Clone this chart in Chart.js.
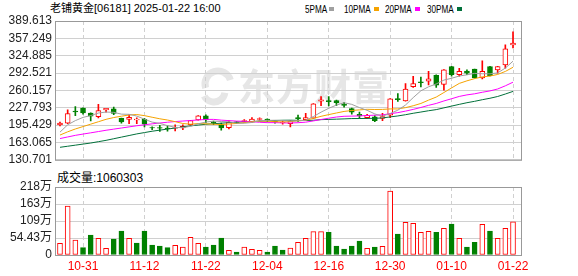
<!DOCTYPE html>
<html>
<head>
<meta charset="utf-8">
<script src="https://cdn.jsdelivr.net/npm/chart.js@4.4.1/dist/chart.umd.min.js"></script>
<style>
	body { margin: 0; background: #fff; width: 578px; height: 276px; overflow: hidden; position: relative;
		font-family: "Liberation Sans", Arial, "Noto Sans CJK SC", sans-serif; color: #000; }
	canvas { position: absolute; left: 0; }
	#kline { top: 0; }
	#vol { top: 170px; }
	.txt { position: absolute; white-space: nowrap; }
	.leg { position: absolute; top: 3px; font-size: 11px; line-height: 12px; transform: scaleX(0.74); transform-origin: left center; }
	.sq { position: absolute; top: 7px; width: 5px; height: 4px; }
</style>
</head>
<body>
<div class="txt" style="left:50px; top:2px; font-size:11px; line-height:13px">老铺黄金[06181] 2025-01-22 16:00</div>
<div id="legend"></div>
<div class="txt" id="volTitle" style="left:57px; top:171px; font-size:12px; line-height:14px"></div>
<canvas id="kline" width="578" height="170"></canvas>
<canvas id="vol" width="578" height="106"></canvas>
<script>
// trading days shown (HK)
const dates = ['10-28', '10-29', '10-30', '10-31',
	'11-01', '11-04', '11-05', '11-06', '11-07', '11-08', '11-11', '11-12', '11-13', '11-14', '11-15',
	'11-18', '11-19', '11-20', '11-21', '11-22', '11-25', '11-26', '11-27', '11-28', '11-29',
	'12-02', '12-03', '12-04', '12-05', '12-06', '12-09', '12-10', '12-11', '12-12', '12-13',
	'12-16', '12-17', '12-18', '12-19', '12-20', '12-23', '12-24', '12-27', '12-30', '12-31',
	'01-02', '01-03', '01-06', '01-07', '01-08', '01-09', '01-10', '01-13', '01-14', '01-15',
	'01-16', '01-17', '01-20', '01-21', '01-22'];

const openP = [196, 199, 221.8, 227, 218, 211, 223.6, 226, 208, 206,
	205, 206, 190.6, 190.6, 190, 189.5, 190, 196, 205, 212.5,
	201.5, 196.5, 190.5, 201.5, 202, 201, 206.2, 206.8, 203, 199.5,
	198, 209.5, 205.5, 208.4, 240, 241, 241.3, 234.6, 226.3, 215.6,
	209.5, 210.7, 207.7, 213.8, 245, 240.4, 267.3, 276, 277.6, 288.4,
	271.5, 304.6, 289.5, 296, 299.7, 283.5, 304.6, 298.5, 307.5, 344.8];
const highP = [201, 224, 230, 227.5, 218.5, 234.4, 226.8, 229, 208.5, 215,
	209, 208, 192, 195, 194, 196, 195.8, 204.4, 213, 214.5,
	203, 199, 204, 202, 205.5, 209.5, 209.2, 207.2, 203.5, 202.5,
	204, 214, 217.5, 235.5, 248.5, 248.5, 242, 237.7, 227, 219.7,
	215.6, 213.2, 217.4, 245, 254.4, 272.7, 286.6, 284.8, 295.6, 289,
	299, 305, 301.5, 298.5, 300, 315.3, 305, 305, 345.2, 369.3];
const lowP = [194, 198, 213, 216, 203, 209, 219.4, 215, 199, 198,
	198, 192, 187, 183.5, 184, 184.5, 187, 195, 204.5, 200,
	196, 186, 188.5, 198.5, 201, 200, 203.2, 202.5, 199, 197,
	192, 202, 205, 208, 231.7, 231, 231.7, 229, 215.6, 207.7,
	207.7, 202, 203.5, 209.5, 239.5, 240, 265.5, 266.8, 270.4, 265.6,
	260.7, 286.6, 286.6, 289.5, 283, 281.7, 287, 292.5, 301.6, 339.3];
const closeP = [199, 217, 220, 218, 212, 222.4, 226.6, 217, 201.4, 210,
	206.5, 197, 190, 189.5, 189, 191, 193, 204, 212.5, 205,
	199.5, 190, 201, 200, 204, 206.5, 207.4, 203.2, 201.5, 201,
	203, 207.5, 209.6, 235.3, 242.5, 239, 237.1, 232, 219.7, 212.5,
	213.8, 203.5, 211.2, 244.3, 243, 262.5, 272.7, 274.5, 281.7, 269.8,
	298.5, 289.5, 295.6, 292.5, 283.5, 295.6, 287.7, 304.6, 337.5, 348.3];

const ma5 = [182.3, 196, 203.8, 209.8, 213.2, 217.9, 219.8, 219.2, 215.9, 215.5,
	212.3, 206.4, 201, 198.6, 194.4, 191.3, 190.5, 193.3, 197.9, 201.1,
	202.8, 202.2, 201.6, 199.1, 198.9, 200.3, 203.8, 204.2, 204.5, 203.9,
	203.2, 203.2, 204.5, 211.3, 219.6, 226.8, 232.7, 237.2, 234.1, 228.1,
	223, 216.3, 212.1, 217.1, 223.2, 232.9, 246.7, 259.4, 266.9, 272.2,
	279.4, 282.8, 287, 289.2, 291.9, 291.3, 291, 292.8, 301.8, 314.7];
const ma10 = [176.9, 182.9, 188.2, 192.7, 197.2, 201.7, 206.2, 209.5, 212, 214.3,
	215.1, 213.1, 210.1, 207.2, 204.9, 201.8, 198.4, 197.1, 198.3, 197.8,
	197.1, 196.4, 197.5, 198.5, 200, 201.6, 203, 202.9, 201.8, 201.4,
	201.8, 203.5, 204.4, 207.9, 211.8, 215, 218, 220.9, 222.7, 223.8,
	224.9, 224.5, 224.7, 225.6, 225.6, 228, 231.5, 235.8, 242, 247.7,
	256.2, 264.8, 273.2, 278, 282.1, 285.4, 286.9, 289.9, 295.5, 303.3];
const ma20 = [170.3, 173.3, 176.3, 178.7, 181, 183.4, 185.8, 187.9, 190, 192.1,
	194.2, 196, 197.8, 199.3, 200.8, 202, 203, 204, 205, 206,
	206.1, 204.7, 203.8, 202.9, 202.5, 201.7, 200.7, 200, 200, 199.6,
	199.4, 199.9, 200.9, 203.2, 205.9, 208.3, 210.5, 211.9, 212.2, 212.6,
	213.3, 214, 214.5, 216.7, 218.7, 221.5, 224.7, 228.3, 232.3, 235.8,
	240.5, 244.6, 248.9, 251.8, 253.8, 256.7, 259.2, 262.8, 268.7, 275.5];
const ma30 = [154, 156, 158, 160, 162, 164.5, 167, 170, 173, 176,
	179, 181.5, 184, 186, 188, 190, 192, 194, 195.5, 197,
	198, 199, 200, 200.8, 201.5, 202.2, 202.8, 203.4, 204, 204.5,
	204.6, 204.3, 204, 204.5, 205.6, 206.1, 206.5, 207, 207.6, 207.7,
	207.9, 208.1, 208.8, 210.7, 212.5, 214.8, 217.5, 219.8, 222.2, 224.3,
	227.6, 230.9, 234.1, 237.2, 239.8, 242.8, 245.5, 248.8, 253.4, 258.3];

// volume in 万股
const volume = [37.3, 156.8, 48, 23.5, 64, 53.3, 21.3, 51.2, 76.8, 53.3,
	38.4, 76.8, 32, 28.8, 23.5, 30.9, 25.6, 56.5, 37.3, 25.6,
	32, 54.4, 14.9, 9.6, 25.6, 18.1, 14.9, 9.6, 28.8, 16,
	22.4, 40.5, 53.3, 74.7, 74.7, 72.5, 28.8, 19.2, 28.8, 44.8,
	21.3, 25.6, 27.7, 204.8, 67.2, 104.5, 101.3, 72.5, 75.7, 72.5,
	85.3, 99.2, 53.3, 25.6, 40.5, 98.1, 76.8, 53.3, 85.3, 106.0303];

const dateTicks = ['10-31', '11-12', '11-22', '12-04', '12-16', '12-30', '01-10', '01-22'];
const priceTicks = [130.701, 163.065, 195.429, 227.793, 260.157, 292.521, 324.885, 357.249, 389.613];
const volTicks = [0, 54.43, 108.86, 163.29, 217.72];
const volTickLabels = ['0', '54.43万', '109万', '163万', '218万'];
const maLabels = ['5PMA', '10PMA', '20PMA', '30PMA'];
const lastVolume = '1060303';

const RED = '#ff0000', GREEN = '#008000';
const maColors = ['#a0a0a0', '#f5a300', '#ff00ff', '#00703a'];
const FONT = '"Liberation Sans", Arial, "Noto Sans CJK SC", sans-serif';

Chart.defaults.font.family = FONT;
Chart.defaults.font.size = 12;

const idx = dates.map((d, i) => i);
const up = idx.map(i => closeP[i] >= openP[i]);
const volUp = idx.map(i => i === 0 ? up[0] : closeP[i] >= closeP[i - 1]);

// legend + volume caption
const legendEl = document.getElementById('legend');
const legX = [305, 344, 385, 427];
maLabels.forEach((t, k) => {
	const s = document.createElement('span');
	s.className = 'leg';
	s.style.left = legX[k] + 'px';
	s.textContent = t;
	legendEl.appendChild(s);
	const q = document.createElement('span');
	q.className = 'sq';
	q.style.left = (legX[k] + t.length * 5.5 + 2) + 'px';
	q.style.background = maColors[k];
	legendEl.appendChild(q);
});
document.getElementById('volTitle').textContent = '成交量:' + lastVolume;

function xAxis(showLabels, height) {
	return {
		type: 'linear',
		offset: false,
		min: -0.65,
		max: 60.17,
		afterBuildTicks: ax => { ax.ticks = dateTicks.map(d => ({ value: dates.indexOf(d) })); },
		afterFit: ax => { ax.height = height; },
		ticks: {
			display: showLabels, autoSkip: false, maxRotation: 0, padding: 4, color: RED,
			font: { size: 12 },
			callback: v => dates[v]
		},
		grid: { color: '#d0d0d0', drawTicks: false, offset: false },
		border: { display: false, dash: [4, 3] }
	};
}

function yAxis(min, max, ticks, fmt) {
	return {
		min: min,
		max: max,
		afterBuildTicks: ax => { ax.ticks = ticks.map(v => ({ value: v })); },
		afterFit: ax => { ax.width = 55; },
		ticks: { color: '#222', padding: 3, autoSkip: false, font: { size: 12 }, callback: fmt },
		grid: { color: '#d0d0d0', drawTicks: false },
		border: { display: false }
	};
}

const frame = {
	id: 'frame',
	afterDraw(chart) {
		const { ctx, chartArea: { left, top, right, bottom } } = chart;
		ctx.save();
		ctx.strokeStyle = '#999';
		ctx.lineWidth = 1;
		ctx.strokeRect(left + 0.5, top + 0.5, right - left - 1, bottom - top);
		ctx.restore();
	}
};

const watermark = {
	id: 'watermark',
	beforeDraw(chart) {
		const { ctx } = chart;
		ctx.save();
		ctx.fillStyle = '#e6e6e6';
		ctx.strokeStyle = '#e6e6e6';
		// swoosh logo
		ctx.lineWidth = 7;
		ctx.beginPath();
		ctx.arc(218, 84, 13, Math.PI * 0.9, Math.PI * 1.9);
		ctx.stroke();
		ctx.beginPath();
		ctx.arc(214, 91, 11, Math.PI * 0.05, Math.PI * 0.85);
		ctx.stroke();
		ctx.font = 'bold 37px "Noto Sans CJK SC"';
		ctx.letterSpacing = '1px';
		ctx.textBaseline = 'middle';
		ctx.fillText('东方财富', 238, 87);
		ctx.restore();
	}
};

new Chart(document.getElementById('kline'), {
	type: 'bar',
	data: {
		datasets: [
			...[ma5, ma10, ma20, ma30].map((m, k) => ({
				type: 'line',
				label: maLabels[k],
				data: idx.map(i => ({ x: i, y: m[i] })),
				borderColor: maColors[k],
				borderWidth: 1,
				pointRadius: 0,
				tension: 0,
				order: 0
			})),
			{
				label: 'body',
				data: idx.map(i => ({ x: i, y: [openP[i], closeP[i]] })),
				backgroundColor: idx.map(i => up[i] ? '#ffffff' : GREEN),
				borderColor: idx.map(i => up[i] ? RED : GREEN),
				borderWidth: 1,
				borderSkipped: false,
				barThickness: 5,
				grouped: false,
				order: 1
			},
			{
				label: 'wick',
				data: idx.map(i => ({ x: i, y: [lowP[i], highP[i]] })),
				backgroundColor: idx.map(i => up[i] ? RED : GREEN),
				barThickness: 1,
				grouped: false,
				order: 2
			}
		]
	},
	options: {
		responsive: false,
		animation: false,
		layout: { padding: { left: 0, top: 21, right: 56, bottom: 0 } },
		plugins: { legend: { display: false }, tooltip: { enabled: false } },
		scales: {
			x: xAxis(false, 5),
			y: yAxis(130.701, 389.613, priceTicks, v => v.toFixed(3))
		}
	},
	plugins: [watermark, frame]
});

new Chart(document.getElementById('vol'), {
	type: 'bar',
	data: {
		datasets: [{
			label: '成交量',
			data: idx.map(i => ({ x: i, y: volume[i] })),
			backgroundColor: idx.map(i => volUp[i] ? '#ffffff' : GREEN),
			borderColor: idx.map(i => volUp[i] ? RED : GREEN),
			borderWidth: 1,
			borderSkipped: false,
			barThickness: 5
		}]
	},
	options: {
		responsive: false,
		animation: false,
		layout: { padding: { left: 0, top: 17, right: 56, bottom: 0 } },
		plugins: { legend: { display: false }, tooltip: { enabled: false } },
		scales: {
			x: xAxis(true, 21),
			y: yAxis(0, 217.72, volTicks, (v, i) => volTickLabels[i])
		}
	},
	plugins: [frame]
});
</script>
</body>
</html>
